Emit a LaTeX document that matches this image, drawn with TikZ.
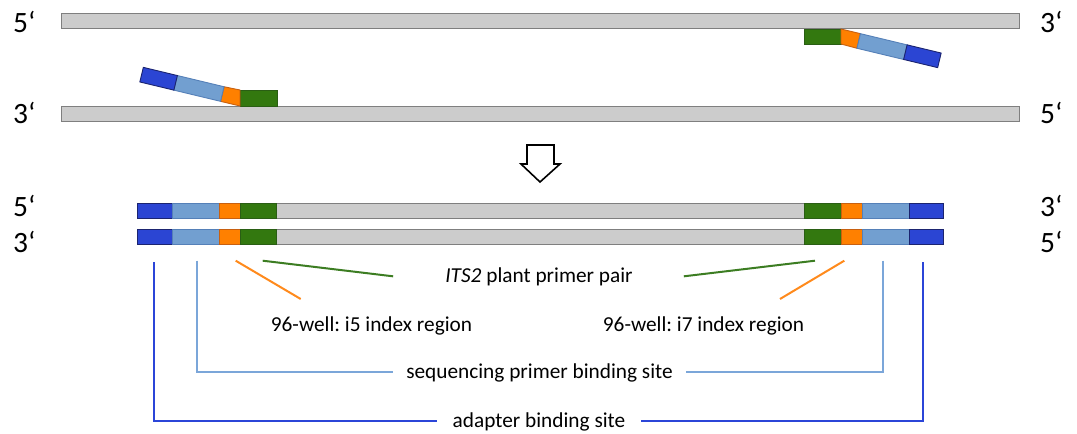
\documentclass[tikz,border=0pt]{standalone}
\usepackage{fontspec}
\setmainfont{Carlito}
\frenchspacing
\definecolor{strandgray}{HTML}{CCCCCC}
\definecolor{strandedge}{HTML}{7F7F7F}
\definecolor{dblueF}{HTML}{2B45D3}
\definecolor{dblueD}{HTML}{1B2470}
\definecolor{lblueF}{HTML}{729FD0}
\definecolor{lblueD}{HTML}{5580B8}
\definecolor{orngF}{HTML}{FF8000}
\definecolor{orngD}{HTML}{C86010}
\definecolor{grnF}{HTML}{33780F}
\definecolor{grnD}{HTML}{2A5E14}
\definecolor{glin}{HTML}{3C7D22}
\definecolor{olin}{HTML}{FF8A1C}
\definecolor{lblin}{HTML}{7BA6D9}
\definecolor{dblin}{HTML}{2B45D8}
\begin{document}
\begin{tikzpicture}[x=1pt,y=-1pt,
  strand/.style={fill=strandgray,draw=strandedge,line width=1pt},
  dblue/.style={fill=dblueF,draw=dblueD,line width=0.9pt},
  lblue/.style={fill=lblueF,draw=lblueD,line width=0.9pt},
  orng/.style={fill=orngF,draw=orngD,line width=0.9pt},
  grn/.style={fill=grnF,draw=grnD,line width=0.9pt},
  endlab/.style={font=\fontsize{29.5}{29.5}\selectfont,inner sep=0pt,anchor=base west},
  lab/.style={font=\fontsize{21.3}{21.3}\selectfont,inner sep=0pt,anchor=base},
  ann/.style={line width=2pt},
  bigarrow/.style={draw=black,fill=white,line width=1.6pt,line join=miter}]
\useasboundingbox (0,0) rectangle (1077,434);

% top template strands
\draw[strand] (61,13.5) rectangle (1019,28.5);
\draw[strand] (61,106) rectangle (1019,121);

% left primer on lower strand
\draw[grn] (240,90) rectangle (277,106);
\draw[orng] (240,106) -- (240,90) -- (224.05,86.74) -- (220.55,101.33) -- cycle;
\draw[lblue] (220.55,101.33) -- (224.05,86.74) -- (177.38,75.54) -- (173.88,90.13) -- cycle;
\draw[dblue] (173.88,90.13) -- (177.38,75.54) -- (143.34,67.37) -- (139.84,81.96) -- cycle;

% right primer on upper strand
\draw[grn] (804,29) rectangle (841,44);
\draw[orng] (841,29) -- (860.45,33.67) -- (856.95,48.26) -- (841,44) -- cycle;
\draw[lblue] (860.45,33.67) -- (907.12,44.87) -- (903.62,59.46) -- (856.95,48.26) -- cycle;
\draw[dblue] (907.12,44.87) -- (941.16,53.04) -- (937.66,67.63) -- (903.62,59.46) -- cycle;

% end labels top
\node[endlab] (l5a) at (13,32) {5‘};
\node[endlab] (l3a) at (13,123) {3‘};
\node[endlab] (r3a) at (1040,32) {3‘};
\node[endlab] (r5a) at (1040,123) {5‘};

% block arrow
\draw[bigarrow] (527,145) -- (554,145) -- (554,164) -- (560,164) -- (540,182) -- (521,164) -- (527,164) -- cycle;

% product strands
\foreach \ya/\yb in {203.5/218.5, 229/244}{
  \draw[strand] (276,\ya) rectangle (804,\yb);
  \draw[dblue] (137,\ya) rectangle (172,\yb);
  \draw[lblue] (172,\ya) rectangle (219,\yb);
  \draw[orng] (219,\ya) rectangle (240,\yb);
  \draw[grn] (240,\ya) rectangle (276,\yb);
  \draw[grn] (804,\ya) rectangle (841,\yb);
  \draw[orng] (841,\ya) rectangle (862,\yb);
  \draw[lblue] (862,\ya) rectangle (909,\yb);
  \draw[dblue] (909,\ya) rectangle (943,\yb);
}

\node[endlab] (l5b) at (13,216) {5‘};
\node[endlab] (l3b) at (13,252) {3‘};
\node[endlab] (r3b) at (1040,216) {3‘};
\node[endlab] (r5b) at (1040,252) {5‘};

% annotation texts
\node[lab] (its) at (539,282) {\textit{ITS2} plant primer pair};
\node[lab] (i5) at (371.5,331) {96-well: i5 index region};
\node[lab] (i7) at (703.5,331) {96-well: i7 index region};
\node[lab] (seq) at (539.5,378) {sequencing primer binding site};
\node[lab] (adp) at (539,427) {adapter binding site};

% anchor points under the product
\coordinate (gL) at (262.7,260.7);
\coordinate (gR) at (815,260.7);
\coordinate (oL) at (235.7,260.7);
\coordinate (oR) at (844.3,260.7);
\coordinate (oLe) at (300.7,299);
\coordinate (oRe) at (780,299);
\coordinate (sL) at (196.7,260.7);
\coordinate (sR) at (883.3,260.7);
\coordinate (aL) at (154,262);
\coordinate (aR) at (922.7,262);

% annotation lines
\draw[ann,glin] (gL) -- ([xshift=-52pt]its.west);
\draw[ann,glin] (gR) -- ([xshift=51pt]its.east);
\draw[ann,olin] (oL) -- (oLe);
\draw[ann,olin] (oR) -- (oRe);
\draw[ann,lblin] (sL) |- ([xshift=-12.7pt]seq.west);
\draw[ann,lblin] (sR) |- ([xshift=12.7pt]seq.east);
\draw[ann,dblin] (aL) |- ([xshift=-16pt]adp.west);
\draw[ann,dblin] (aR) |- ([xshift=16pt]adp.east);
\end{tikzpicture}
\end{document}
